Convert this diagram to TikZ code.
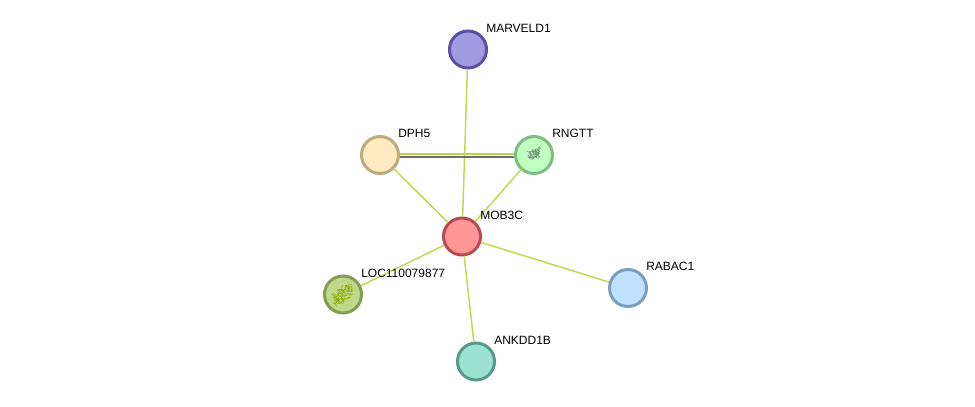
\documentclass[tikz,border=0pt]{standalone}
\usepackage{fontspec}
\setmainfont{Liberation Sans}
\definecolor{evidence}{HTML}{C0D84A}
\definecolor{homology}{HTML}{6E6E6E}
\definecolor{paleedge}{HTML}{BFD24E}
\definecolor{marvedge}{HTML}{5D50A3}\definecolor{marvfill}{HTML}{A39BE2}
\definecolor{dphedge}{HTML}{BEAA7D}\definecolor{dphfill}{HTML}{FFEAC2}
\definecolor{rngedge}{HTML}{7DBE82}\definecolor{rngfill}{HTML}{C1FFC1}
\definecolor{mobedge}{HTML}{B94B50}\definecolor{mobfill}{HTML}{FF9696}
\definecolor{locedge}{HTML}{879B55}\definecolor{locfill}{HTML}{C1D88C}
\definecolor{rabedge}{HTML}{78A0C3}\definecolor{rabfill}{HTML}{C1E2FF}
\definecolor{ankedge}{HTML}{559B8C}\definecolor{ankfill}{HTML}{9DE2D1}
\definecolor{rngtex}{HTML}{6F8F78}
\definecolor{loctex}{HTML}{86AA00}
\tikzset{
  x=0.75pt, y=-0.75pt,
  protein/.style n args={2}{circle, minimum size=27.75pt, inner sep=0pt, line width=2.25pt, draw=#1, fill=#2},
  caption/.style={anchor=base west, font=\fontsize{9pt}{10pt}\selectfont, inner sep=0pt, text=black},
  link/.style={draw=evidence, line width=1.1pt},
  scribble/.style={line width=0.3pt, line cap=round}
}
% Small tangle of strokes standing for a structure preview inside a node
\newcommand{\tangle}[7]{%
  \pgfmathsetseed{#4}%
  \foreach \k in {1,...,#5} {
    \pgfmathsetmacro{\ax}{#1+rand*#3}
    \pgfmathsetmacro{\ay}{#2-(\ax-#1)*#7+rand*#3*0.75}
    \pgfmathsetmacro{\bx}{\ax+rand*3}
    \pgfmathsetmacro{\by}{\ay+rand*3}
    \draw[scribble, draw=#6] (\ax,\ay) -- (\bx,\by);
  }%
}
\begin{document}
\begin{tikzpicture}
\useasboundingbox (0,0) rectangle (975,407);
\fill[white] (0,0) rectangle (975,407);

% Protein nodes
\node[protein={marvedge}{marvfill}] (marveld) at (468,49.5) {};
\node[protein={dphedge}{dphfill}] (dph) at (380,155) {};
\node[protein={rngedge}{rngfill}] (rngtt) at (534,155) {};
\node[protein={mobedge}{mobfill}] (mob) at (462,236.5) {};
\node[protein={locedge}{locfill}] (loc) at (343,294.5) {};
\node[protein={rabedge}{rabfill}] (rabac) at (628,288) {};
\node[protein={ankedge}{ankfill}] (ankdd) at (476,361.5) {};

% Interaction edges
\draw[link] (mob) -- (marveld);
\draw[link] (mob) -- (dph);
\draw[link] (mob) -- (rngtt);
\draw[link] (mob) -- (loc);
\draw[link] (mob) -- (rabac);
\draw[link] (mob) -- (ankdd);
\draw[draw=paleedge, line width=1.5pt] ([yshift=1.05pt]dph.east) -- ([yshift=1.05pt]rngtt.west);
\draw[draw=homology, line width=1.5pt] ([yshift=-1.2pt]dph.east) -- ([yshift=-1.2pt]rngtt.west);

% Structure previews
\tangle{534}{154}{5}{11}{80}{rngtex}{0.3}
\tangle{343}{294}{9}{23}{140}{loctex}{0.55}

% Labels
\node[caption] (tmarveld) at (486,32) {MARVELD1};
\node[caption] (tdph) at (398,137) {DPH5};
\node[caption] (trngtt) at (552,137) {RNGTT};
\node[caption] (tmob) at (480,219) {MOB3C};
\node[caption] (tloc) at (361,277) {LOC110079877};
\node[caption] (trabac) at (646,270) {RABAC1};
\node[caption] (tankdd) at (494,344) {ANKDD1B};
\end{tikzpicture}
\end{document}
